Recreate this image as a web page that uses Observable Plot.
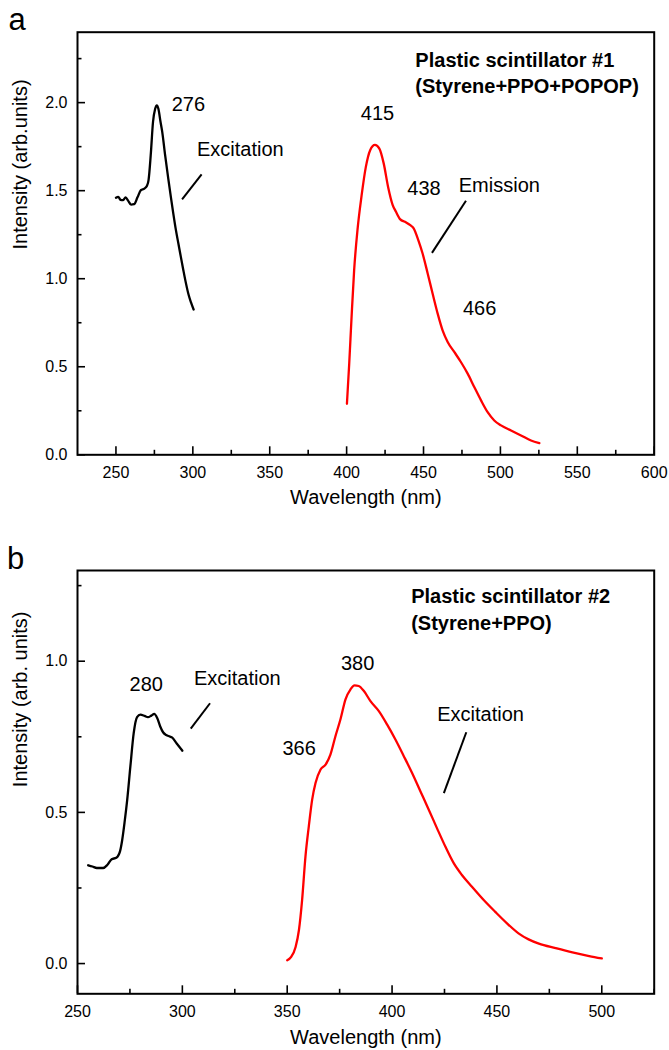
<!DOCTYPE html>
<html><head><meta charset="utf-8">
<script src="https://cdn.jsdelivr.net/npm/d3@7"></script>
<script src="https://cdn.jsdelivr.net/npm/@observablehq/plot@0.6"></script>
<style>
html,body{margin:0;padding:0;background:#fff;}
#chart svg{display:block;}
</style></head><body><div id="chart"></div>
<script>
// ---------- Panel a: Plastic scintillator #1 ----------
const aExcNm = [250,251.5,253,254.5,256.3,258,259.8,261.8,264,266.2,268.5,270.2,271.2,272.6,274.1,275.5,276.6,277.6,279,280,282,284,285.7,287.3,289,290.6,292.2,293.8,295.5,297.2,298.8,300.5];
const aExcI  = [1.460,1.465,1.448,1.446,1.462,1.442,1.421,1.423,1.462,1.503,1.512,1.528,1.56,1.70,1.89,1.965,1.985,1.965,1.89,1.84,1.70,1.57,1.465,1.37,1.276,1.20,1.124,1.05,0.975,0.91,0.865,0.825];
const aEmNm = [400.2,401.7,403.2,404.9,407.1,409.7,412.5,415.3,418.4,421.2,424.1,427,429.9,432.1,434.9,437.9,441.4,443.6,446.6,449.4,452.7,455.9,459.2,462.4,465.7,470,474.3,478.7,483,487.4,491.7,496,500.4,506.9,513.4,519.9,525.3];
const aEmI  = [0.29,0.52,0.78,1.05,1.28,1.47,1.635,1.73,1.76,1.74,1.655,1.52,1.42,1.38,1.337,1.323,1.304,1.286,1.219,1.143,1.03,0.916,0.802,0.707,0.641,0.584,0.527,0.461,0.385,0.309,0.242,0.195,0.167,0.138,0.110,0.081,0.066];
const aXDomain = [225, 600];
const aYDomain = [0, 2.4];
const aXMajor = [250,300,350,400,450,500,550,600];
const aXMinor = [275,325,375,425,475,525,575];
const aYMajor = [0,0.5,1.0,1.5,2.0];
const aYMinor = [0.25,0.75,1.25,1.75,2.25];
const aNoteText = ["276","Excitation","415","438","Emission","466"];
const aNoteNm   = [297.1,330.9,420.1,450.3,499.3,486.5];
const aNoteI    = [1.990,1.732,1.940,1.513,1.527,0.830];
const aLineNm1 = [305.7,477.6], aLineI1 = [1.593,1.443];
const aLineNm2 = [293.0,455.5], aLineI2 = [1.450,1.147];
const aTitle = ["Plastic scintillator #1","(Styrene+PPO+POPOP)"];
const aTitleNm = 444.7;
const aTitleI = [2.241,2.093];

// ---------- Panel b: Plastic scintillator #2 ----------
const bExcNm = [255.1,257.1,259.2,262.2,264.3,266.3,268.5,270.3,271.3,272.5,273.7,275.2,276.8,278.4,280,282,283.6,285.2,286.6,288,289.4,290.8,292.3,294,295.2,297.3,300];
const bExcI  = [0.325,0.321,0.316,0.316,0.327,0.345,0.350,0.372,0.408,0.47,0.541,0.651,0.762,0.815,0.823,0.819,0.815,0.820,0.826,0.812,0.785,0.765,0.756,0.751,0.747,0.728,0.704];
const bEmNm = [350,351.9,354,355.6,357.1,358.7,360.3,361.9,363.5,365.9,368.3,370.6,373,375.4,377.8,380.2,382.1,384.1,386.5,389.7,393.7,397.6,401.6,405.6,409.5,413.5,417.5,421.4,425.4,429.4,433.3,438.1,443.7,449.2,454.8,460.3,465.1,470,478,486,494,500];
const bEmI  = [0.011,0.022,0.055,0.111,0.210,0.354,0.454,0.542,0.597,0.642,0.658,0.691,0.752,0.808,0.874,0.907,0.920,0.918,0.902,0.868,0.835,0.791,0.741,0.686,0.631,0.570,0.509,0.448,0.387,0.332,0.293,0.254,0.210,0.171,0.133,0.100,0.080,0.066,0.051,0.037,0.025,0.017];
const bXDomain = [250, 525];
const bYDomain = [-0.1, 1.3];
const bXMajor = [250,300,350,400,450,500];
const bXMinor = [275,325,375,425,475,525];
const bYMajor = [0,0.5,1.0];
const bYMinor = [0.25,0.75,1.25];
const bNoteText = ["280","Excitation","380","366","Excitation"];
const bNoteNm   = [282.8,326.2,383.6,355.7,442.2];
const bNoteI    = [0.924,0.941,0.991,0.710,0.825];
const bLineNm1 = [313.2,435.4], bLineI1 = [0.861,0.765];
const bLineNm2 = [304.0,424.7], bLineI2 = [0.777,0.564];
const bTitle = ["Plastic scintillator #2","(Styrene+PPO)"];
const bTitleNm = 409.1;
const bTitleI = [1.213,1.123];

const xTitle = "Wavelength (nm)";

// ---------- drawing ----------
const W = 669, H = 525, ML = 77, MR = 15.3;
const FONT = "'Liberation Sans', Arial, Helvetica, sans-serif";
const zip = (xs, ys) => xs.map((x, i) => ({x, y: ys[i]}));

function panel(c) {
  const iw = W - ML - MR, ih = H - c.mt - c.mb;
  const notes = c.noteText.map((t, i) => ({t, x: c.noteNm[i], y: c.noteI[i]}));
  const links = c.l1x.map((x1, i) => ({x1, y1: c.l1y[i], x2: c.l2x[i], y2: c.l2y[i]}));
  const titles = c.title.map((t, i) => ({t, x: c.titleNm, y: c.titleI[i]}));
  return Plot.plot({
    width: W, height: H,
    marginLeft: ML, marginRight: MR, marginTop: c.mt, marginBottom: c.mb,
    x: {domain: c.xDomain},
    y: {domain: c.yDomain},
    style: {fontFamily: FONT, fontSize: "16px", color: "black", background: "white", overflow: "visible"},
    marks: [
      Plot.tickX(c.xMajor, {x: d => d, insetTop: ih - 8, stroke: "black", strokeWidth: 1.6}),
      Plot.tickX(c.xMinor, {x: d => d, insetTop: ih - 4.5, stroke: "black", strokeWidth: 1.6}),
      Plot.tickY(c.yMajor, {y: d => d, insetRight: iw - 8, stroke: "black", strokeWidth: 1.6}),
      Plot.tickY(c.yMinor, {y: d => d, insetRight: iw - 4.5, stroke: "black", strokeWidth: 1.6}),
      Plot.axisX({ticks: c.xMajor, tickSize: 0, tickPadding: 12, tickFormat: d3.format("d"), label: null, fontSize: 16}),
      Plot.axisY({ticks: c.yMajor, tickSize: 0, tickPadding: 10, tickFormat: d3.format(".1f"), label: null, fontSize: 16}),
      Plot.line(zip(c.excNm, c.excI), {x: "x", y: "y", stroke: "black", strokeWidth: 2.3, curve: "monotone-x"}),
      Plot.line(zip(c.emNm, c.emI), {x: "x", y: "y", stroke: "#ff0000", strokeWidth: 2.3, curve: "monotone-x"}),
      Plot.link(links, {x1: "x1", y1: "y1", x2: "x2", y2: "y2", stroke: "black", strokeWidth: 2}),
      Plot.text(notes, {x: "x", y: "y", text: "t", fontSize: 20, fill: "black", textAnchor: "middle", lineAnchor: "middle"}),
      Plot.text(titles, {x: "x", y: "y", text: "t", fontSize: 20, fontWeight: "bold", fill: "black", textAnchor: "start", lineAnchor: "middle"}),
      Plot.text([xTitle], {text: d => d, frameAnchor: "bottom", dy: c.xTitleDy, fontSize: 20, fill: "black", lineAnchor: "middle"}),
      Plot.text([c.yTitle], {text: d => d, frameAnchor: "left", dx: -57, dy: c.yTitleDy, rotate: -90, fontSize: 20, fill: "black", lineAnchor: "middle"}),
      Plot.text([c.letter], {text: d => d, frameAnchor: "top-left", dx: c.letterDx, dy: -11.8, fontSize: 31, fill: "black", textAnchor: "start", lineAnchor: "middle"}),
      Plot.frame({stroke: "black", strokeWidth: 2})
    ]
  });
}

const chart = document.getElementById("chart");
chart.append(panel({
  mt: 31.7, mb: 70.7,
  xDomain: aXDomain, yDomain: aYDomain,
  xMajor: aXMajor, xMinor: aXMinor, yMajor: aYMajor, yMinor: aYMinor,
  excNm: aExcNm, excI: aExcI, emNm: aEmNm, emI: aEmI,
  noteText: aNoteText, noteNm: aNoteNm, noteI: aNoteI,
  l1x: aLineNm1, l1y: aLineI1, l2x: aLineNm2, l2y: aLineI2,
  title: aTitle, titleNm: aTitleNm, titleI: aTitleI,
  yTitle: "Intensity (arb.units)", yTitleDy: 6, xTitleDy: 43,
  letter: "a", letterDx: -69
}));
chart.append(panel({
  mt: 45, mb: 56.7,
  xDomain: bXDomain, yDomain: bYDomain,
  xMajor: bXMajor, xMinor: bXMinor, yMajor: bYMajor, yMinor: bYMinor,
  excNm: bExcNm, excI: bExcI, emNm: bEmNm, emI: bEmI,
  noteText: bNoteText, noteNm: bNoteNm, noteI: bNoteI,
  l1x: bLineNm1, l1y: bLineI1, l2x: bLineNm2, l2y: bLineI2,
  title: bTitle, titleNm: bTitleNm, titleI: bTitleI,
  yTitle: "Intensity (arb. units)", yTitleDy: 5, xTitleDy: 44,
  letter: "b", letterDx: -70.5
}));
</script></body></html>
